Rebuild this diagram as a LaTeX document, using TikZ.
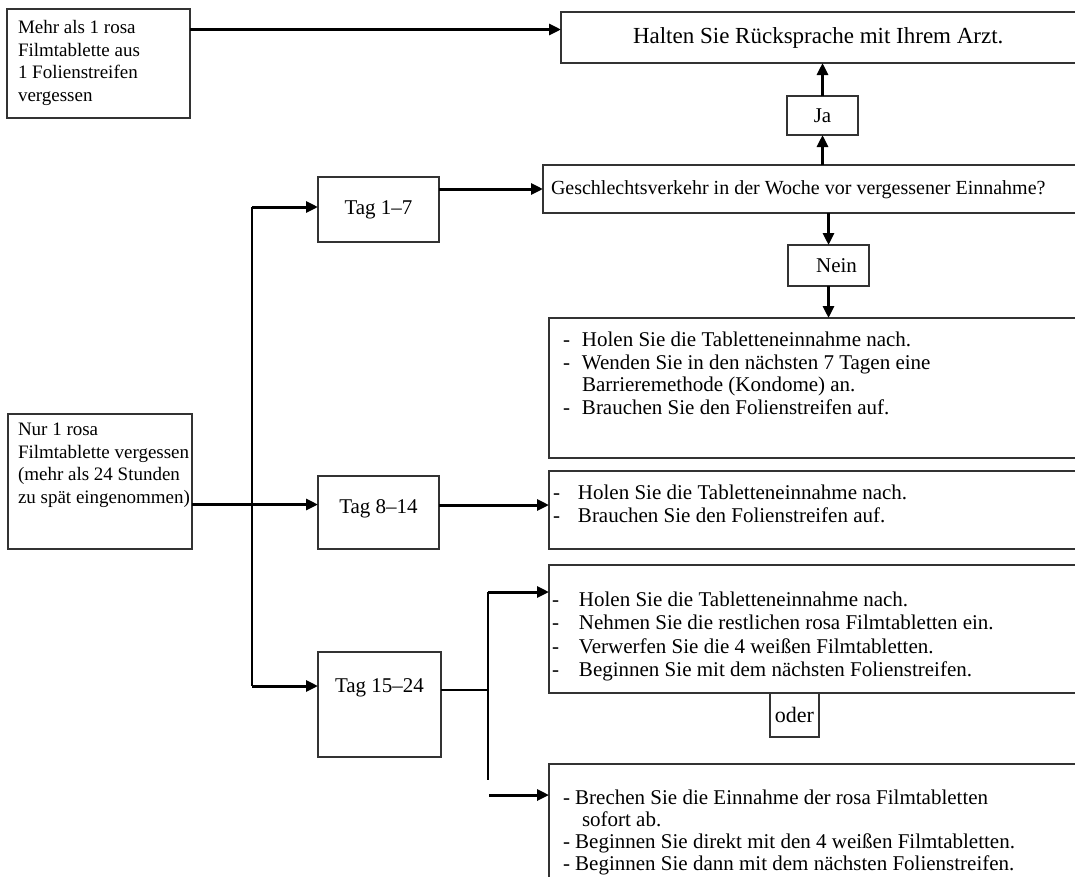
\documentclass[tikz,border=0pt]{standalone}
\usepackage{fontspec}
\setmainfont{Liberation Serif}
\usetikzlibrary{arrows.meta,calc}
\tikzset{
  bx/.style={draw=black!80, line width=1.3pt, inner sep=0pt, outer sep=0pt, anchor=north west},
  arr/.style={line width=3pt, -{Triangle[length=12pt,width=11pt]}},
  thinline/.style={line width=1.4pt},
}
% height, width, top space, left skip, body
\newcommand\Bx[5]{\parbox[c][#1pt][t]{#2pt}{\vspace*{#3pt}\parindent=0pt\leftskip=#4pt\relax #5\par}}
\newlength\dw
\newcommand\D{\strut\makebox[\dw][l]{-}}
\newcommand\I{\strut\hspace*{\dw}}
\begin{document}
\begin{tikzpicture}[x=1pt,y=-1pt]
\useasboundingbox (0,0) rectangle (1075,876);
\clip (0,0) rectangle (1075,876);

% left boxes
\node[bx] (boxA) at (7,9) {\fontsize{19}{22.5}\selectfont\Bx{109}{183}{9}{11}{\strut Mehr als 1 rosa\\\strut Filmtablette aus\\\strut 1 Folienstreifen\\\strut vergessen}};
\node[bx] (nur) at (8,414) {\fontsize{19}{22.5}\selectfont\Bx{135}{184}{6}{10}{\strut Nur 1 rosa\\\strut Filmtablette vergessen\\\strut (mehr als 24 Stunden\\\strut zu spät eingenommen)}};

% top right
\node[bx] (halten) at (561,12) {\fontsize{23}{27}\selectfont\Bx{51}{600}{13}{72}{\strut Halten Sie Rücksprache mit Ihrem Arzt.}};
\node[bx, minimum width=71pt, minimum height=39pt] (ja) at (787,96) {\fontsize{21}{25}\selectfont Ja};
\node[bx] (q) at (543,165) {\fontsize{20}{24}\selectfont\Bx{48}{600}{13}{8}{\strut Geschlechtsverkehr in der Woche vor vergessener Einnahme?}};
\node[bx, minimum width=81pt, minimum height=41pt] (nein) at (788,245) {\fontsize{21}{25}\selectfont\hspace*{16pt}Nein};

% Tag boxes
\node[bx, minimum width=121pt, minimum height=65pt] (t17) at (318,177) {\fontsize{21}{25}\selectfont Tag 1–7};
\node[bx] (t814) at (318,476) {\fontsize{21}{25}\selectfont\Bx{73}{121}{20}{0}{\centering\strut Tag 8–14}};
\node[bx] (t1524) at (318,652) {\fontsize{21}{25}\selectfont\Bx{105}{123}{23}{0}{\centering\strut Tag 15–24}};

% action boxes
\node[bx] (b1) at (549,318) {\fontsize{21}{22.5}\selectfont\setlength\dw{19pt}\Bx{140}{600}{13}{14}{\D Holen Sie die Tabletteneinnahme nach.\\\D Wenden Sie in den nächsten 7 Tagen eine\\\I Barrieremethode (Kondome) an.\\\D Brauchen Sie den Folienstreifen auf.}};
\node[bx] (b2) at (549,471) {\fontsize{21}{23.5}\selectfont\setlength\dw{25pt}\Bx{78}{600}{12}{4}{\D Holen Sie die Tabletteneinnahme nach.\\\D Brauchen Sie den Folienstreifen auf.}};
\node[bx] (b3) at (549,565) {\fontsize{21}{23.5}\selectfont\setlength\dw{27pt}\Bx{128}{600}{25}{3}{\D Holen Sie die Tabletteneinnahme nach.\\\D Nehmen Sie die restlichen rosa Filmtabletten ein.\\\D Verwerfen Sie die 4 weißen Filmtabletten.\\\D Beginnen Sie mit dem nächsten Folienstreifen.}};
\node[bx, minimum width=49pt, minimum height=44pt] (oder) at (770,693) {\fontsize{22}{26}\selectfont oder};
\node[bx] (b4) at (549,764) {\fontsize{21}{22}\selectfont\Bx{200}{600}{25}{14}{\strut - Brechen Sie die Einnahme der rosa Filmtabletten\\\strut\hspace*{19pt}sofort ab.\\\strut - Beginnen Sie direkt mit den 4 weißen Filmtabletten.\\\strut - Beginnen Sie dann mit dem nächsten Folienstreifen.}};

% connectors
\coordinate (hin) at ($(halten.west)+(0,-8)$);
\draw[arr] (boxA.east |- hin) -- (hin);
\draw[arr] (ja.north) -- (ja.north |- halten.south);
\draw[arr] (q.north -| ja.south) -- (ja.south);
\draw[arr] (t17.east |- q.west) -- (q.west);
\draw[arr] (q.south -| nein.north) -- (nein.north);
\draw[arr] (nein.south) -- (nein.south |- b1.north);

\coordinate (vtop) at (252,207);
\coordinate (vbot) at (252,686);
\draw[thinline] (vtop) -- (vbot);
\draw[arr] (vtop) -- (vtop -| t17.west);
\draw[arr] (vbot) -- (vbot -| t1524.west);

\coordinate (n814) at ($(t814.west)+(0,-8)$);
\draw[arr] (nur.east |- n814) -- (n814);
\coordinate (b2in) at ($(b2.west)+(0,-5)$);
\draw[arr] (t814.east |- b2in) -- (b2in);

\coordinate (split) at (488,690);
\coordinate (stop) at (488,592);
\coordinate (sbot) at (488,780);
\coordinate (s4) at (489,795);
\draw[thinline] (t1524.east |- split) -- (split);
\draw[thinline] (stop) -- (sbot);
\draw[arr] (stop) -- (stop -| b3.west);
\draw[arr] (s4) -- (s4 -| b4.west);
\end{tikzpicture}
\end{document}
